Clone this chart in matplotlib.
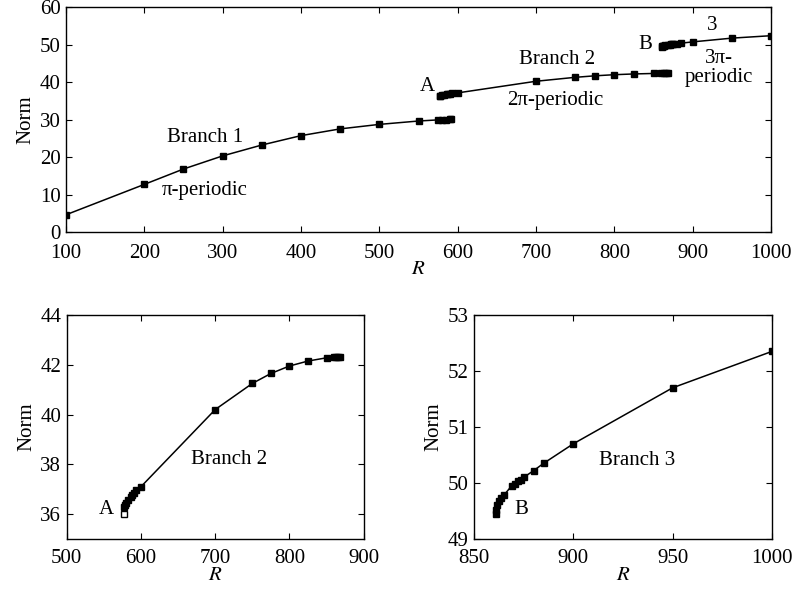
import numpy as np
import matplotlib.pyplot as plt

# branch data
r1 = [100, 200, 250, 300, 350, 400, 450, 500, 550, 575, 580, 585, 590, 592]
n1 = [4.6, 12.7, 16.8, 20.3, 23.2, 25.7, 27.5, 28.7, 29.6, 29.9, 30.0, 30.0, 30.05, 30.05]

r2 = [577, 578, 580, 583, 586, 588, 590, 593, 600, 700, 750, 775, 800, 825, 850, 860, 863, 866, 868]
n2 = [36.3, 36.38, 36.45, 36.57, 36.68, 36.76, 36.84, 36.95, 37.1, 40.2, 41.25, 41.65, 41.95,
      42.15, 42.28, 42.31, 42.32, 42.33, 42.3]
r2_open, n2_open = [577], [36.0]

r3 = [861, 861.3, 861.8, 862.5, 863.5, 865, 869, 870.5, 872, 873.5, 875, 880, 885, 900, 950, 1000]
n3 = [49.45, 49.52, 49.6, 49.67, 49.73, 49.78, 49.95, 49.99, 50.03, 50.06, 50.1, 50.22, 50.35,
      50.7, 51.7, 52.35]

plt.rcParams['font.family'] = ['Liberation Serif', 'DejaVu Serif']
plt.rcParams['font.size'] = 15
plt.rcParams['mathtext.fontset'] = 'stix'

fig = plt.figure(figsize=(7.97, 5.94), dpi=100)
ax_top = fig.add_axes([0.0828, 0.6094, 0.8846, 0.3788])
ax_bl = fig.add_axes([0.0837, 0.0926, 0.3726, 0.3771])
ax_br = fig.add_axes([0.5947, 0.0926, 0.3739, 0.3771])

line_kw = dict(color='black', lw=1.1, marker='s', ms=3.8, mfc='black', mec='black')

for ax in (ax_top, ax_bl, ax_br):
    ax.tick_params(direction='in', top=True, right=True, length=4, width=0.8,
                   labelsize=15)
    ax.tick_params(axis='x', pad=7)
    ax.tick_params(axis='y', pad=4)
    for s in ax.spines.values():
        s.set_linewidth(1.0)
    ax.set_ylabel("Norm", fontsize=15, labelpad=3)
    ax.set_xlabel("$R$", fontsize=15, labelpad=-1)

# top panel: all branches
ax_top.plot(r1, n1, **line_kw)
ax_top.plot(r2, n2, **line_kw)
ax_top.plot(r3, n3, **line_kw)
ax_top.set_xlim(100, 1000)
ax_top.set_ylim(0, 60)
ax_top.set_xticks(np.arange(100, 1001, 100))
ax_top.set_yticks(np.arange(0, 61, 10))
ax_top.tick_params(axis='x', pad=8.5)
ax_top.set_xlabel("$R$", fontsize=15, labelpad=-2)
ax_top.text(277, 25.3, "Branch 1", ha='center', va='center')
ax_top.text(277, 11.2, "π-periodic", ha='center', va='center')
ax_top.text(561, 38.9, "A", ha='center', va='center')
ax_top.text(727, 46.1, "Branch 2", ha='center', va='center')
ax_top.text(725, 35.2, "2π-periodic", ha='center', va='center')
ax_top.text(839, 49.9, "B", ha='center', va='center')
ax_top.text(925, 55.2, "3", ha='center', va='center')
ax_top.text(933, 43.7, "3π-\nperiodic", ha='center', va='center', linespacing=0.95)

# bottom left: branch 2
ax_bl.plot(r2, n2, **line_kw)
ax_bl.plot(r2_open, n2_open, ls='none', marker='s', ms=3.8, mfc='white', mec='black')
ax_bl.set_xlim(500, 900)
ax_bl.set_ylim(35, 44)
ax_bl.set_xticks(np.arange(500, 901, 100))
ax_bl.set_yticks(np.arange(36, 45, 2))
ax_bl.text(719, 38.2, "Branch 2", ha='center', va='center')
ax_bl.text(554, 36.17, "A", ha='center', va='center')

# bottom right: branch 3
ax_br.plot(r3, n3, **line_kw)
ax_br.set_xlim(850, 1000)
ax_br.set_ylim(49, 53)
ax_br.set_xticks(np.arange(850, 1001, 50))
ax_br.set_yticks(np.arange(49, 54, 1))
ax_br.text(932, 50.41, "Branch 3", ha='center', va='center')
ax_br.text(874, 49.52, "B", ha='center', va='center')

fig.savefig("out.png", dpi=100)
